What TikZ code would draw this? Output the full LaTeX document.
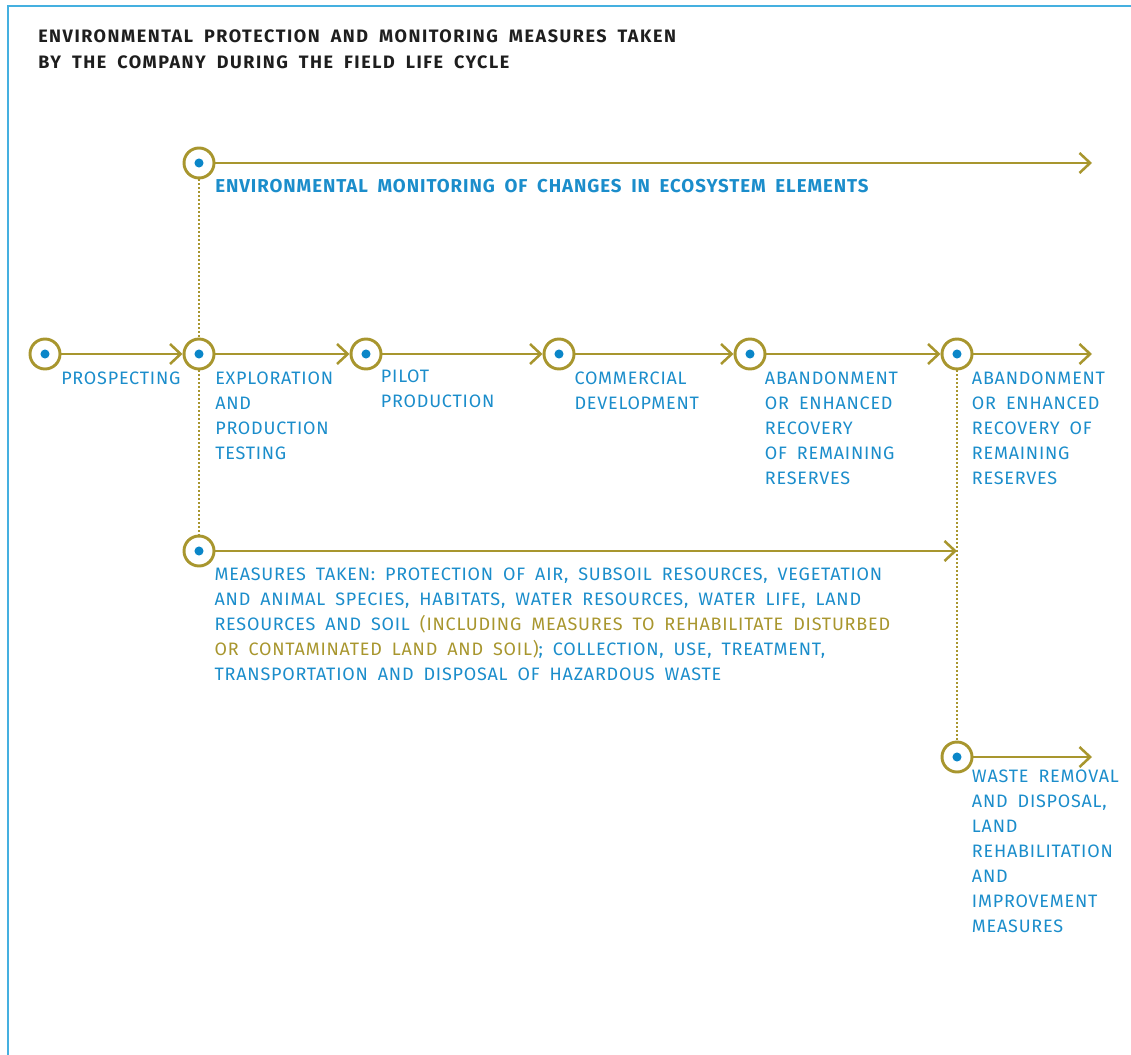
\documentclass[tikz,border=0pt]{standalone}
\usepackage{fontspec}
\setmainfont{Fira Sans}
\newfontfamily\lblfont{Fira Sans}[LetterSpace=4.3, WordSpace=1.8]
\newfontfamily\boldfont{Fira Sans}[LetterSpace=5, WordSpace=1.8]
\newfontfamily\headfont{Fira Sans}[LetterSpace=8.5, WordSpace=1.9]
\usepackage{xcolor}
\usepackage{tikz}
\usetikzlibrary{arrows.meta, positioning}

\definecolor{goldline}{HTML}{A8962E}
\definecolor{textblue}{HTML}{1B8DCB}
\definecolor{dotblue}{HTML}{0A86C8}
\definecolor{frameblue}{HTML}{45B0E0}
\definecolor{headgray}{HTML}{1E1E1E}

\tikzset{
    stage/.style={circle, draw=goldline, line width=2.2pt, minimum size=22.5pt,
        inner sep=0pt, path picture={\fill[dotblue] (path picture bounding box.center) circle (3.4pt);}},
    flow/.style={goldline, line width=1.9pt, -{Straight Barb[length=8pt, width=15pt]}},
    link/.style={goldline, line width=1.6pt, dash pattern=on 1.5pt off 1.5pt},
    lbl/.style={text=textblue, font=\lblfont\fontsize{13.5}{18.75}\selectfont, align=left,
        inner sep=0pt, anchor=north west},
    lblbold/.style={lbl, font=\boldfont\bfseries\fontsize{14}{18.75}\selectfont},
    heading/.style={text=headgray, font=\headfont\bfseries\fontsize{13.5}{19.5}\selectfont,
        align=left, inner sep=0pt, anchor=north west},
}

\begin{document}
\begin{tikzpicture}[x=0.75pt, y=-0.75pt]
    \useasboundingbox (0,0) rectangle (1131,1055);

    % 1. Frame and heading
    \draw[frameblue, line width=1.5pt] (8,1055) -- (8,6) -- (1131,6);
    \node[heading] (head) at (38,29)
        {ENVIRONMENTAL PROTECTION AND MONITORING MEASURES TAKEN\\
         BY THE COMPANY DURING THE FIELD LIFE CYCLE};

    % 2. Stages of the field life cycle
    \node[stage] (mon)   at (199,163) {};
    \node[stage] (p1)    at (45,354)  {};
    \node[stage] (p2)    at (199,354) {};
    \node[stage] (p3)    at (366,354) {};
    \node[stage] (p4)    at (559,354) {};
    \node[stage] (p5)    at (750,354) {};
    \node[stage] (p6)    at (957,354) {};
    \node[stage] (meas)  at (199,551) {};
    \node[stage] (waste) at (957,757) {};

    \coordinate (monEnd)   at (1092,163);
    \coordinate (rowEnd)   at (1092,354);
    \coordinate (measEnd)  at (957,551);
    \coordinate (wasteEnd) at (1092,757);

    % 3. Arrows
    \draw[flow] (mon) -- (monEnd);
    \draw[flow] (p1) -- (p2);
    \draw[flow] (p2) -- (p3);
    \draw[flow] (p3) -- (p4);
    \draw[flow] (p4) -- (p5);
    \draw[flow] (p5) -- (p6);
    \draw[flow] (p6) -- (rowEnd);
    \draw[flow] (meas) -- (measEnd);
    \draw[flow] (waste) -- (wasteEnd);

    % 4. Dotted links
    \draw[link] (mon) -- (p2);
    \draw[link] (p2) -- (meas);
    \draw[link] (p6) -- (waste);

    % 5. Labels
    \node[lblbold, below right=0pt and 12pt of mon.south]
        {ENVIRONMENTAL MONITORING OF CHANGES IN ECOSYSTEM ELEMENTS};
    \node[lbl, below right=0.5pt and 12pt of p1.south] {PROSPECTING};
    \node[lbl, below right=0.5pt and 12pt of p2.south]
        {EXPLORATION\\AND\\PRODUCTION\\TESTING};
    \node[lbl, below right=-1pt and 11pt of p3.south] {PILOT\\PRODUCTION};
    \node[lbl, below right=0.5pt and 11.5pt of p4.south] {COMMERCIAL\\DEVELOPMENT};
    \node[lbl, below right=0.5pt and 11pt of p5.south]
        {ABANDONMENT\\OR ENHANCED\\RECOVERY\\OF REMAINING\\RESERVES};
    \node[lbl, below right=0.5pt and 11pt of p6.south]
        {ABANDONMENT\\OR ENHANCED\\RECOVERY OF\\REMAINING\\RESERVES};
    \node[lbl, below right=0pt and 11.5pt of meas.south]
        {MEASURES TAKEN: PROTECTION OF AIR, SUBSOIL RESOURCES, VEGETATION\\
         AND ANIMAL SPECIES, HABITATS, WATER RESOURCES, WATER LIFE, LAND\\
         RESOURCES AND SOIL \textcolor{goldline}{(INCLUDING MEASURES TO REHABILITATE DISTURBED}\\
         \textcolor{goldline}{OR CONTAMINATED LAND AND SOIL)}; COLLECTION, USE, TREATMENT,\\
         TRANSPORTATION AND DISPOSAL OF HAZARDOUS WASTE};
    \node[lbl, below right=-3pt and 11pt of waste.south]
        {WASTE REMOVAL\\AND DISPOSAL,\\LAND\\REHABILITATION\\AND\\IMPROVEMENT\\MEASURES};
\end{tikzpicture}
\end{document}
